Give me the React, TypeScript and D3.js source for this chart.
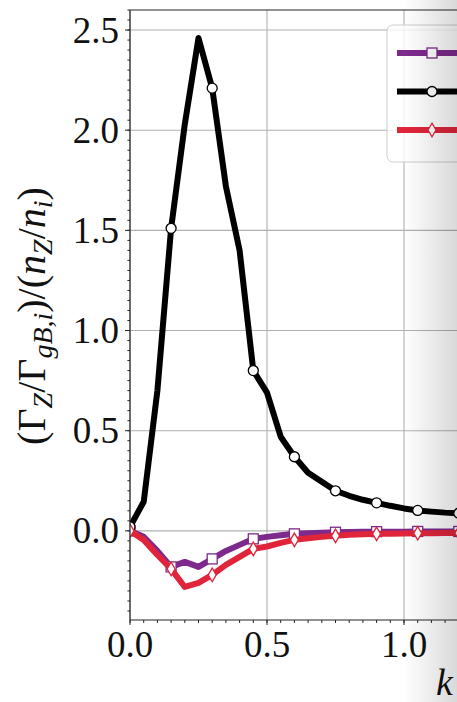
import React from "react";
import * as d3 from "d3";

// Wavenumber grid and normalised impurity fluxes for three species
const kValues = [
  0, 0.05, 0.1, 0.15, 0.2, 0.25, 0.3, 0.35, 0.4, 0.45, 0.5, 0.55, 0.6, 0.65,
  0.7, 0.75, 0.8, 0.85, 0.9, 0.95, 1.0, 1.05, 1.1, 1.15, 1.2, 1.25, 1.3,
];
const purpleFlux = [
  0, -0.03, -0.1, -0.18, -0.155, -0.18, -0.14, -0.1, -0.07, -0.04, -0.03,
  -0.022, -0.015, -0.012, -0.009, -0.007, -0.006, -0.005, -0.004, -0.004,
  -0.004, -0.003, -0.003, -0.003, -0.003, -0.003, -0.003,
];
const blackFlux = [
  0.02, 0.145, 0.7, 1.51, 2.03, 2.46, 2.21, 1.72, 1.4, 0.8, 0.69, 0.47, 0.37,
  0.29, 0.245, 0.2, 0.175, 0.155, 0.14, 0.125, 0.112, 0.102, 0.096, 0.091,
  0.088, 0.085, 0.083,
];
const redFlux = [
  0, -0.045, -0.12, -0.19, -0.28, -0.26, -0.22, -0.17, -0.13, -0.09, -0.078,
  -0.06, -0.045, -0.037, -0.03, -0.025, -0.02, -0.017, -0.015, -0.014, -0.013,
  -0.012, -0.012, -0.011, -0.011, -0.011, -0.011,
];
const yTicks = [0, 0.5, 1.0, 1.5, 2.0, 2.5];
const xTicks = [0, 0.5, 1.0, 1.5];

const W = 457;
const H = 702;
const left = 130;
const top = 10;
const bottom = 620;
const xMax = 2.5;
const pxPerUnit = 274;

const FONT = "'Liberation Serif', 'Times New Roman', serif";
const PURPLE = "#7d2a8c";
const BLACK = "#000000";
const RED = "#e0253b";

type Marker = "square" | "circle" | "thinDiamond";

function MarkerShape({ kind, x, y, color }: { kind: Marker; x: number; y: number; color: string }) {
  const sw = 1.3;
  if (kind === "square")
    return <rect x={x - 5} y={y - 5} width={10} height={10} fill="#fff" stroke={color} strokeWidth={sw} />;
  if (kind === "circle")
    return <circle cx={x} cy={y} r={5} fill="#fff" stroke={color} strokeWidth={sw} />;
  return (
    <path
      d={`M${x},${y - 6.8} L${x + 4},${y} L${x},${y + 6.8} L${x - 4},${y} Z`}
      fill="#fff"
      stroke={color}
      strokeWidth={sw}
    />
  );
}

export default function App() {
  const x = d3.scaleLinear().domain([0, xMax]).range([left, left + xMax * pxPerUnit]);
  const y = d3.scaleLinear().domain([-0.445, 2.6]).range([bottom, top]);
  const right = x(xMax);

  const series = [
    { name: "purple", values: purpleFlux, color: PURPLE, marker: "square" as Marker },
    { name: "black", values: blackFlux, color: BLACK, marker: "circle" as Marker },
    { name: "red", values: redFlux, color: RED, marker: "thinDiamond" as Marker },
  ];

  const line = d3
    .line<number>()
    .x((_, i) => x(kValues[i]))
    .y((v) => y(v));

  const yMinor = d3.range(-8, 53).map((i) => i * 0.05).filter((v) => v >= -0.445 && v <= 2.6);
  const xMinor = d3.range(0, 51).map((i) => i * 0.05);

  const fmt = d3.format(".1f");

  return (
    <svg
      width={W}
      height={H}
      style={{ position: "absolute", left: 0, top: 0, background: "#fff" }}
      fontFamily={FONT}
    >
      <defs>
        <clipPath id="plotArea">
          <rect x={left} y={top} width={right - left} height={bottom - top} />
        </clipPath>
        <linearGradient id="edgeFade" x1="0" x2="1" y1="0" y2="0">
          <stop offset="0" stopColor="#000" stopOpacity={0} />
          <stop offset="1" stopColor="#000" stopOpacity={0.15} />
        </linearGradient>
      </defs>

      {/* grid */}
      <g stroke="#b0b0b0" strokeWidth={1.1}>
        {yTicks.map((t) => (
          <line key={`gy${t}`} x1={left} x2={right} y1={y(t)} y2={y(t)} />
        ))}
        {xTicks.map((t) => (
          <line key={`gx${t}`} x1={x(t)} x2={x(t)} y1={top} y2={bottom} />
        ))}
      </g>

      {/* flux curves */}
      <g clipPath="url(#plotArea)">
        {series.map((s) => (
          <g key={s.name}>
            <path
              d={line(s.values) ?? ""}
              fill="none"
              stroke={s.color}
              strokeWidth={6}
              strokeLinejoin="round"
            />
            {s.values.map((v, i) =>
              i % 3 === 0 ? (
                <MarkerShape key={i} kind={s.marker} x={x(kValues[i])} y={y(v)} color={s.color} />
              ) : null
            )}
          </g>
        ))}
      </g>

      {/* spines */}
      <g stroke="#262626" strokeWidth={1.2} fill="none">
        <line x1={left} x2={left} y1={top} y2={bottom} />
        <line x1={left} x2={right} y1={top} y2={top} />
        <line x1={left} x2={right} y1={bottom} y2={bottom} />
      </g>

      {/* y ticks */}
      <g stroke="#262626" strokeWidth={1}>
        {yMinor.map((t) => (
          <line key={`ym${t}`} x1={left - 2.6} x2={left} y1={y(t)} y2={y(t)} />
        ))}
        {yTicks.map((t) => (
          <line key={`yM${t}`} x1={left - 5} x2={left} y1={y(t)} y2={y(t)} />
        ))}
      </g>
      <g fontSize={37} fill="#111" textAnchor="end">
        {yTicks.map((t) => (
          <text key={`yl${t}`} x={left - 11} y={y(t)} dy="0.34em">
            {fmt(t)}
          </text>
        ))}
      </g>

      {/* x ticks */}
      <g stroke="#262626" strokeWidth={1}>
        {xMinor.map((t) => (
          <line key={`xm${t}`} x1={x(t)} x2={x(t)} y1={bottom} y2={bottom + 3} />
        ))}
        {xTicks.map((t) => (
          <line key={`xM${t}`} x1={x(t)} x2={x(t)} y1={bottom} y2={bottom + 5} />
        ))}
      </g>
      <g fontSize={37} fill="#111" textAnchor="middle">
        {xTicks
          .filter((t) => x(t) < W - 20)
          .map((t) => (
            <text key={`xl${t}`} x={x(t)} y={657}>
              {fmt(t)}
            </text>
          ))}
      </g>

      {/* axis labels */}
      <text x={436} y={695} fontSize={38} fontStyle="italic" fill="#111">
        k
      </text>
      <text
        transform="translate(45,316) rotate(-90)"
        textAnchor="middle"
        fontSize={40}
        fill="#111"
      >
        <tspan>(Γ</tspan>
        <tspan fontStyle="italic" fontSize={28} dy={7}>Z</tspan>
        <tspan dy={-7}>/Γ</tspan>
        <tspan fontStyle="italic" fontSize={28} dy={7}>gB,i</tspan>
        <tspan dy={-7}>)/(</tspan>
        <tspan fontStyle="italic">n</tspan>
        <tspan fontStyle="italic" fontSize={28} dy={7}>Z</tspan>
        <tspan dy={-7}>/</tspan>
        <tspan fontStyle="italic">n</tspan>
        <tspan fontStyle="italic" fontSize={28} dy={7}>i</tspan>
        <tspan dy={-7}>)</tspan>
      </text>

      {/* legend */}
      <g>
        <rect x={387} y={25} width={140} height={137} rx={6} fill="#fff" fillOpacity={0.8} stroke="#cccccc" strokeWidth={1} />
        {series.map((s, i) => {
          const ly = 53 + i * 38.5;
          return (
            <g key={`lg${s.name}`}>
              <line x1={397} x2={467} y1={ly} y2={ly} stroke={s.color} strokeWidth={6} />
              <MarkerShape kind={s.marker} x={432} y={ly} color={s.color} />
            </g>
          );
        })}
      </g>

      {/* fade toward the right edge */}
      <rect x={404} y={0} width={W - 404} height={H} fill="url(#edgeFade)" />
    </svg>
  );
}
